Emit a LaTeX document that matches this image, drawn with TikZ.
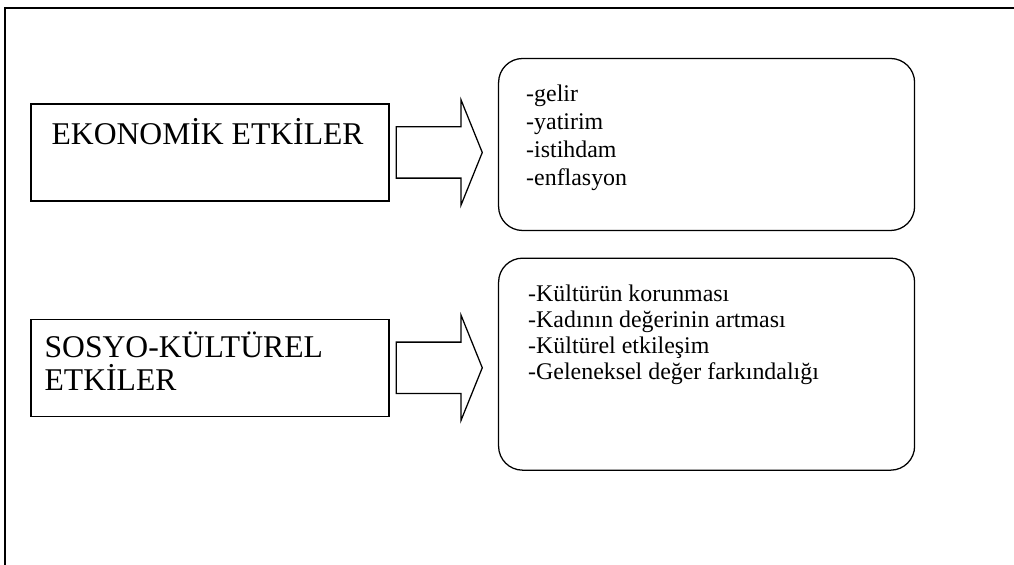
\documentclass[tikz,border=0pt]{standalone}
\usepackage{fontspec}
\setmainfont{Liberation Serif}
\usepackage{tikz}
\usetikzlibrary{shapes.arrows, positioning, calc}
\tikzstyle{marco} = [line width=1.4pt]
\tikzstyle{caja} = [rectangle, draw=black, line width=0.9pt, minimum width=8.95cm, minimum height=2.425cm, inner sep=0pt]
\tikzstyle{lista} = [rectangle, rounded corners=0.6cm, draw=black, line width=0.9pt, minimum width=10.4cm, inner sep=0pt]
\tikzstyle{flecha} = [single arrow, draw=black, line width=0.9pt, single arrow head extend=0.675cm, single arrow tip angle=136, minimum height=2.15cm, inner xsep=0pt, inner ysep=0.625cm]
\tikzstyle{titulo} = [anchor=base west, inner sep=0pt, align=left, font=\fontsize{22.5}{23.5}\selectfont]
\tikzstyle{items} = [anchor=base west, inner sep=0pt, align=left, font=\fontsize{17}{20}\selectfont]

\begin{document}
\begin{tikzpicture}
    \useasboundingbox (0,0) rectangle (25.35,14.125);
    % Marco exterior
    \draw [marco] (0.125,-0.5) -- (0.125,13.93) -- (25.6,13.93);

    % Tipos de efectos
    \node (eko) [caja] at (5.25,10.3125) {};
    \node (sosyo) [caja, below=2.925cm of eko] {};
    % (base = linea de abajo)
    \node (eko-t) [titulo] at ($(eko.north west)+(0.525,-1.025)$) {EKONOMİK ETKİLER};
    \node (sosyo-t) [titulo] at ($(sosyo.north west)+(0.35,-1.80)$) {SOSYO-KÜLTÜREL\\ETKİLER};

    % Flechas
    \node (ok1) [flecha, right=0.15cm of eko] {};
    \node (ok2) [flecha, right=0.15cm of sosyo] {};

    % Listas
    \node (ec) [lista, minimum height=4.3cm, right=0.375cm of ok1, yshift=0.2cm] {};
    \node (sk) [lista, minimum height=5.3cm, right=0.375cm of ok2, yshift=0.09cm] {};
    \node (ec-t) [items] at ($(ec.north west)+(0.7,-3.2)$) {-gelir\\-yatirim\\-istihdam\\-enflasyon};
    \node (sk-t) [items, font=\fontsize{17}{18.5}\selectfont] at ($(sk.north west)+(0.75,-3.05)$) {-Kültürün korunması\\-Kadının değerinin artması\\-Kültürel etkileşim\\-Geleneksel değer farkındalığı};
\end{tikzpicture}
\end{document}
